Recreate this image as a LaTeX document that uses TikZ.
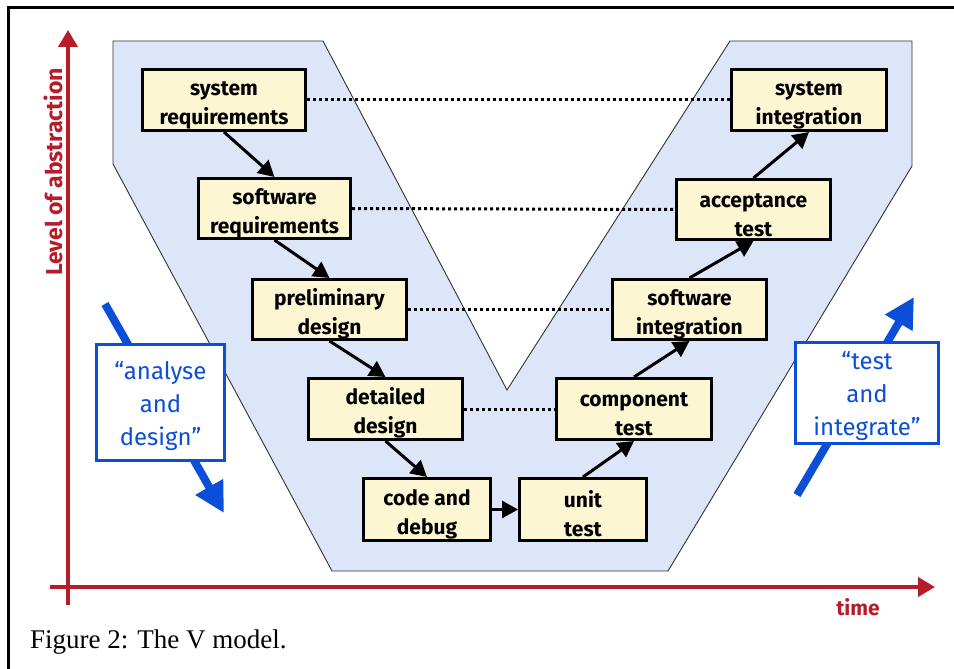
\documentclass[tikz,border=0pt]{standalone}
\usepackage{fontspec}
\setmainfont{Liberation Serif}
\newfontfamily\labfont{Fira Sans}
\usetikzlibrary{arrows.meta}
\definecolor{vblue}{HTML}{DCE6F8}
\definecolor{boxyel}{HTML}{FCF7D2}
\definecolor{axisred}{HTML}{B71C2A}
\definecolor{noteblue}{HTML}{0B4FD8}
\newcommand\topgap{\rule{0pt}{25pt}}
\tikzset{
  stagebox/.style={draw=black, fill=boxyel, line width=3pt, align=center,
    font=\labfont\bfseries\fontsize{21}{29}\selectfont, inner sep=0pt},
  flow/.style={draw=black, line width=3pt, -{Triangle[length=16pt,width=17pt]}},
  trace/.style={draw=black, line width=3pt, dash pattern=on 3pt off 3pt},
  axisline/.style={draw=axisred, line width=4pt, -{Triangle[length=17pt,width=19pt]}},
  axislabel/.style={text=axisred, font=\labfont\bfseries\fontsize{21}{24}\selectfont},
  bigarrow/.style={draw=noteblue, line width=8pt, -{Triangle[length=30pt,width=30pt]}},
  notebox/.style={draw=noteblue, fill=white, line width=3.5pt, align=center, inner sep=0pt,
    text=noteblue, font=\labfont\fontsize{24}{33}\selectfont}
}
\begin{document}
\begin{tikzpicture}[x=1pt,y=-1pt]
\useasboundingbox (0,0) rectangle (954,669);
\fill[white] (0,0) rectangle (954,669);
% frame
\draw[line width=3pt] (8,669) -- (8,8) -- (956,8);
% V shape
\filldraw[fill=vblue, draw=black!80, line width=0.9pt]
  (113,41) -- (323,41) -- (507,390) -- (730,41) -- (912,41) -- (912,166)
  -- (668,571) -- (332,571) -- (113,164) -- cycle;
% axes
\coordinate (vbot) at (68,605);
\coordinate (vtop) at (68,30);
\coordinate (hl) at (50,587);
\coordinate (hr) at (935,587);
\draw[axisline] (vbot) -- (vtop);
\draw[axisline] (hl) -- (hr);
\node[axislabel, font=\labfont\bfseries\fontsize{23}{26}\selectfont, rotate=90] (lvl) at (53,172) {Level of abstraction};
\node[axislabel] (time) at (858,607) {time};
% stage boxes
\node[stagebox, minimum width=163, minimum height=61] (sysreq) at (224,100) {\topgap system\\requirements};
\node[stagebox, minimum width=152, minimum height=60] (swreq) at (274.5,208.5) {\topgap software\\requirements};
\node[stagebox, minimum width=154, minimum height=60] (prelim) at (329.5,309.5) {\topgap preliminary\\design};
\node[stagebox, minimum width=154, minimum height=61] (detail) at (385.5,409) {\topgap detailed\\design};
\node[stagebox, minimum width=127, minimum height=62] (code) at (427,509.5) {\topgap code and\\debug};
\node[stagebox, minimum width=127, minimum height=62] (unit) at (583,509.5) {\topgap unit\\test};
\node[stagebox, minimum width=155, minimum height=61] (comp) at (634,409) {\topgap component\\test};
\node[stagebox, minimum width=154, minimum height=60] (swint) at (689.5,309.5) {\topgap software\\integration};
\node[stagebox, minimum width=154, minimum height=60] (accept) at (753.5,209.5) {\topgap acceptance\\test};
\node[stagebox, minimum width=155, minimum height=61] (sysint) at (809,100) {\topgap system\\integration};
% traceability
\draw[trace] (sysreq.east) -- (sysint.west);
\draw[trace] (swreq.east) -- (accept.west);
\draw[trace] (prelim.east) -- (swint.west);
\draw[trace] (detail.east) -- (comp.west);
% flow
\draw[flow] (sysreq.south) -- (swreq.north);
\draw[flow] (swreq.south) -- (prelim.north);
\draw[flow] (prelim.south) -- (detail.north);
\draw[flow] (detail.south) -- (code.north);
\draw[flow] (code.east) -- (unit.west);
\draw[flow] (unit.north) -- (comp.south);
\draw[flow] (comp.north) -- (swint.south);
\draw[flow] (swint.north) -- (accept.south);
\draw[flow] (accept.north) -- (sysint.south);
% blue notes
\coordinate (la1) at (105,304);
\coordinate (la2) at (224,513);
\draw[bigarrow] (la1) -- (la2);
\node[notebox, minimum width=128, minimum height=116] (anal) at (160.5,402.5) {\topgap“analyse\\and\\design”};
\coordinate (ra1) at (797,495);
\coordinate (ra2) at (914,297);
\draw[bigarrow] (ra1) -- (ra2);
\node[notebox, minimum width=143, minimum height=101] (testint) at (867,393) {\topgap“test\\and\\integrate”};
% caption
\node[anchor=base west, inner sep=0pt, font=\fontsize{27}{30}\selectfont] (cap) at (30,648) {Figure 2: The V model.};
\end{tikzpicture}
\end{document}
